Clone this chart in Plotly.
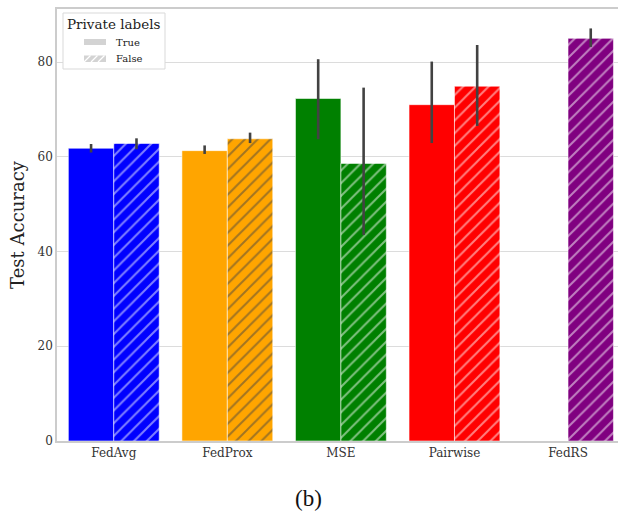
import plotly.graph_objects as go

# Methods on the x axis and one colour per method
methods = ["FedAvg", "FedProx", "MSE", "Pairwise", "FedRS"]
colors = ["#0000ff", "#ffa500", "#008000", "#ff0000", "#800080"]

# Mean test accuracy with / without private labels (FedRS only without)
acc_true = [61.8, 61.3, 72.3, 71.0, None]
acc_false = [62.8, 63.8, 58.6, 74.9, 85.0]

# Confidence interval bounds for each bar
ci_true_low = [60.9, 60.6, 63.7, 62.9, None]
ci_true_high = [62.7, 62.4, 80.6, 80.1, None]
ci_false_low = [61.6, 62.9, 43.5, 66.5, 83.2]
ci_false_high = [63.9, 65.1, 74.6, 83.6, 87.1]

y_ticks = [0, 20, 40, 60, 80]

SERIF = "DejaVu Serif"
ERR_COLOR = "#424242"
EDGE = "rgba(255,255,255,0.55)"
HATCH = dict(shape="/", fgcolor="white", size=9, solidity=0.22)


def plus(vals, highs):
    return [None if v is None else h - v for v, h in zip(vals, highs)]


def minus(vals, lows):
    return [None if v is None else v - l for v, l in zip(vals, lows)]


fig = go.Figure()

# "True" bars sit left of each category centre, "False" bars right of it
fig.add_trace(go.Bar(
    x=methods, y=acc_true, name="True", showlegend=False,
    width=0.4, offset=-0.4,
    marker=dict(color=colors, line=dict(color=EDGE, width=1)),
    error_y=dict(type="data", symmetric=False,
                 array=plus(acc_true, ci_true_high),
                 arrayminus=minus(acc_true, ci_true_low),
                 color=ERR_COLOR, thickness=2.6, width=0),
))

fig.add_trace(go.Bar(
    x=methods, y=acc_false, name="False", showlegend=False,
    width=0.4, offset=0.0,
    marker=dict(color=colors, line=dict(color=EDGE, width=1), pattern=HATCH),
    error_y=dict(type="data", symmetric=False,
                 array=plus(acc_false, ci_false_high),
                 arrayminus=minus(acc_false, ci_false_low),
                 color=ERR_COLOR, thickness=2.6, width=0),
))

# Plot-area geometry in pixels, used to place the hand-drawn legend
L, R, T, B = 57, 618, 9, 441


def px(x):
    return (x - L) / (R - L)


def py(y):
    return (B - y) / (B - T)


shapes = [
    # legend frame
    dict(type="rect", xref="paper", yref="paper",
         x0=px(63), x1=px(165), y0=py(69), y1=py(13),
         fillcolor="white", line=dict(color="#d9d9d9", width=1), layer="above"),
    # "True" swatch
    dict(type="rect", xref="paper", yref="paper",
         x0=px(84), x1=px(106), y0=py(45), y1=py(39),
         fillcolor="#d3d3d3", line=dict(width=0), layer="above"),
    # "False" swatch
    dict(type="rect", xref="paper", yref="paper",
         x0=px(84), x1=px(106), y0=py(62), y1=py(55.5),
         fillcolor="#d3d3d3", line=dict(width=0), layer="above"),
]
# white hatching across the "False" swatch
for x0 in (84, 91, 98):
    x1 = min(x0 + 6.5, 106)
    y1 = 62 - (x1 - x0)
    shapes.append(dict(type="line", xref="paper", yref="paper",
                       x0=px(x0), y0=py(62), x1=px(x1), y1=py(y1),
                       line=dict(color="white", width=1.2), layer="above"))

annotations = [
    dict(text="Private labels", xref="paper", yref="paper", x=px(114), y=py(24),
         xanchor="center", yanchor="middle", showarrow=False,
         font=dict(family=SERIF, size=13.5, color="#222222")),
    dict(text="True", xref="paper", yref="paper", x=px(114), y=py(42.5),
         xanchor="left", yanchor="middle", showarrow=False,
         font=dict(family=SERIF, size=10, color="#222222")),
    dict(text="False", xref="paper", yref="paper", x=px(114), y=py(59),
         xanchor="left", yanchor="middle", showarrow=False,
         font=dict(family=SERIF, size=10, color="#222222")),
    dict(text="(b)", xref="paper", yref="paper", x=px(308), y=py(498),
         xanchor="center", yanchor="middle", showarrow=False,
         font=dict(family="Liberation Serif", size=23, color="#111111")),
]

fig.update_layout(
    width=618, height=514,
    margin=dict(l=L, r=618 - R, t=T, b=514 - B),
    plot_bgcolor="white", paper_bgcolor="white",
    barmode="group", showlegend=False,
    font=dict(family=SERIF, color="#333333"),
    xaxis=dict(
        range=[-0.5, 4.44], showgrid=False, ticks="",
        showline=True, linecolor="#cccccc", linewidth=1.5, mirror=True,
        tickfont=dict(family=SERIF, size=12, color="#333333"),
    ),
    yaxis=dict(
        range=[0, 91.2], tickvals=y_ticks, showgrid=True, gridcolor="#dcdcdc", gridwidth=1,
        zeroline=False, showline=True, linecolor="#cccccc", linewidth=1.5, mirror=False,
        ticks="", tickfont=dict(family=SERIF, size=12, color="#333333"),
        title=dict(text="Test Accuracy", font=dict(family=SERIF, size=18, color="#222222"),
                   standoff=8),
    ),
    shapes=shapes,
    annotations=annotations,
)

fig.write_html("out.html")
